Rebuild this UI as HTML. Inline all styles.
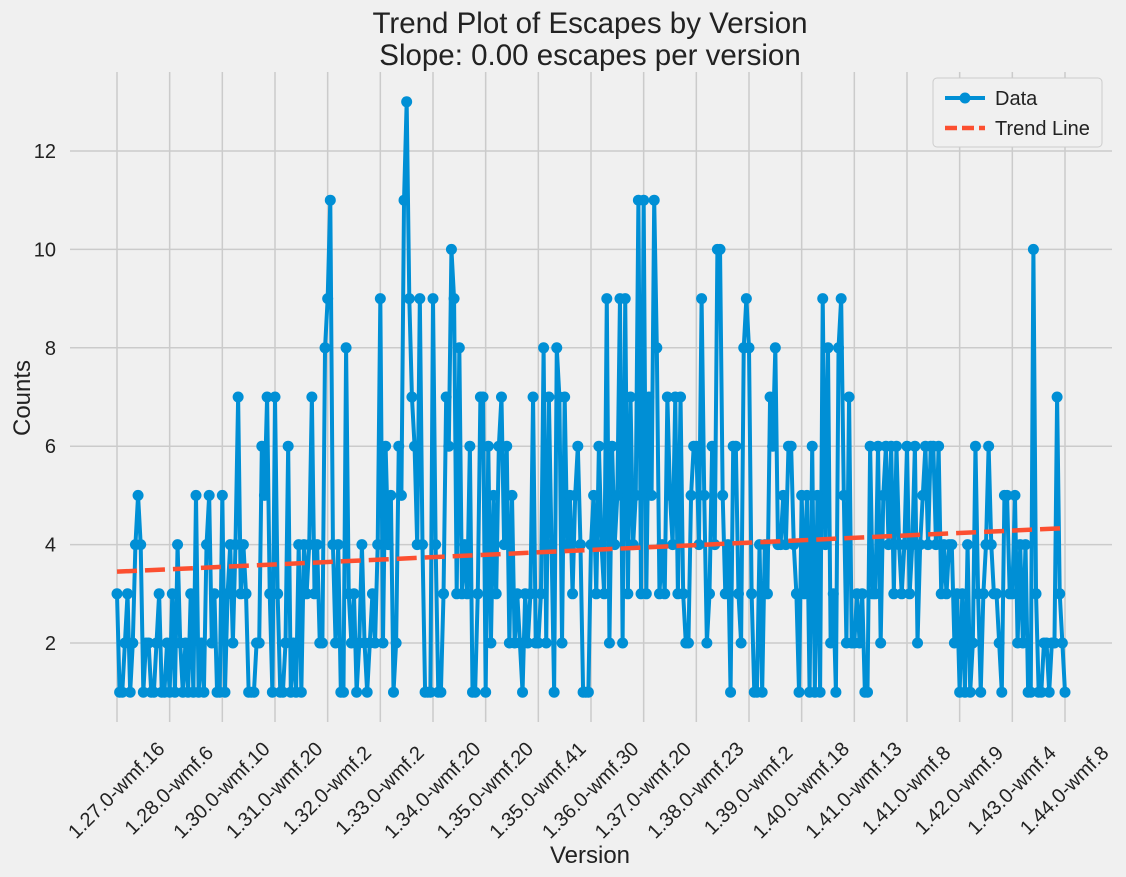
<!DOCTYPE html>
<html><head><meta charset="utf-8"><style>
body{margin:0;background:#f0f0f0;}
svg{display:block;font-family:"Liberation Sans",sans-serif;}
</style></head><body>
<svg id="chart" width="1126" height="877">
<rect width="1126" height="877" fill="#f0f0f0"/>
<g id="grid"></g>
<g id="ticks"></g>
<g id="series"></g>
<text x="590" y="33" text-anchor="middle" font-size="29.5" fill="#222">Trend Plot of Escapes by Version</text>
<text x="590" y="65" text-anchor="middle" font-size="29.5" fill="#222">Slope: 0.00 escapes per version</text>
<text x="590" y="863" text-anchor="middle" font-size="24" fill="#222">Version</text>
<text transform="translate(30,398) rotate(-90)" text-anchor="middle" font-size="24" fill="#222">Counts</text>
<g>
<rect x="933" y="78" width="169" height="69" rx="4" fill="#f0f0f0" stroke="#cccccc"/>
<g>
<line x1="945" y1="98" x2="985" y2="98" stroke="#008fd5" stroke-width="4"/>
<circle cx="965" cy="98" r="5.5" fill="#008fd5"/>
<text x="995" y="105" font-size="20" fill="#222">Data</text>
</g>
<g>
<line x1="945" y1="128" x2="985" y2="128" stroke="#fc4f30" stroke-width="4.5" stroke-dasharray="12,5"/>
<text x="995" y="135" font-size="20" fill="#222">Trend Line</text>
</g>
</g>
</svg>
<script>
const versionLabels=["1.27.0-wmf.16","1.28.0-wmf.6","1.30.0-wmf.10","1.31.0-wmf.20","1.32.0-wmf.2","1.33.0-wmf.2","1.34.0-wmf.20","1.35.0-wmf.20","1.35.0-wmf.41","1.36.0-wmf.30","1.37.0-wmf.20","1.38.0-wmf.23","1.39.0-wmf.2","1.40.0-wmf.18","1.41.0-wmf.13","1.41.0-wmf.8","1.42.0-wmf.9","1.43.0-wmf.4","1.44.0-wmf.8"];
const yTicks=[2,4,6,8,10,12];
const counts=[
3,1,1,2,3,1,2,4,5,4,1,2,2,1,1,2,3,1,1,2,
1,3,1,4,2,1,2,1,3,1,5,1,2,1,4,5,2,3,1,1,
5,1,3,4,2,4,7,3,4,3,1,1,1,2,2,6,5,7,3,1,
7,3,1,1,2,6,1,2,1,4,1,4,3,4,7,3,4,2,2,8,
9,11,4,2,4,1,1,8,3,2,3,1,2,4,2,1,2,3,2,4,
9,2,6,4,5,1,2,6,5,11,13,9,7,6,4,9,4,1,1,1,
9,4,1,1,3,7,6,10,9,3,8,3,4,3,6,1,1,3,7,7,
1,6,2,5,3,6,7,4,6,2,5,2,3,2,1,3,2,3,7,2,
2,3,8,2,7,4,1,8,7,2,7,4,5,3,5,6,4,1,1,1,
4,5,3,6,4,3,9,2,6,4,5,9,2,9,3,7,4,5,11,3,
11,3,7,5,11,8,3,4,3,7,5,4,7,3,7,3,2,2,5,6,
6,4,9,5,2,3,6,4,10,10,5,3,4,1,6,6,3,2,8,9,
8,3,1,1,4,1,4,3,7,6,8,4,4,5,4,6,6,4,3,1,
5,3,5,1,6,1,5,1,9,4,8,2,3,1,8,9,5,2,7,2,
2,3,2,3,1,1,6,3,3,6,2,5,6,4,6,3,6,4,3,4,
6,3,4,6,2,4,5,6,4,6,6,4,6,3,4,3,4,4,2,3,
1,3,1,4,1,2,6,3,1,3,4,6,4,3,3,2,1,5,5,3,
3,5,2,4,2,4,1,1,10,3,1,1,2,2,1,2,2,7,3,2,1];
const tickEvery=20;

const NS="http://www.w3.org/2000/svg";
const n=counts.length;
const X0=117,X1=1065;
function xs(i){return X0+(X1-X0)*i/(n-1);}
function ys(v){return 741.4-49.2*v;}
function mk(tag,attrs,parent){const e=document.createElementNS(NS,tag);for(const k in attrs)e.setAttribute(k,attrs[k]);parent.appendChild(e);return e;}
const grid=document.getElementById('grid'),ticks=document.getElementById('ticks'),series=document.getElementById('series');
yTicks.forEach(v=>{
 const l=mk('line',{x1:70,x2:1112,y1:ys(v),y2:ys(v),stroke:'#cbcbcb','stroke-width':1.5},grid);
 
 
 const t=mk('text',{x:56,y:ys(v)+7,'text-anchor':'end','font-size':20,fill:'#222'},ticks);
 t.textContent=v;
 
 
});
versionLabels.forEach((lab,k)=>{
 const x=xs(k*tickEvery);
 const l=mk('line',{x1:x,x2:x,y1:72,y2:722,stroke:'#cbcbcb','stroke-width':1.5},grid);
 
 
 const t=mk('text',{transform:`translate(${x+4},795) rotate(-45)`,'text-anchor':'middle','font-size':20,fill:'#222'},ticks);
 t.textContent=lab;
 
 
});
let d='';counts.forEach((v,i)=>{d+=(i?'L':'M')+xs(i).toFixed(2)+' '+ys(v).toFixed(2);});
const p=mk('path',{d:d,fill:'none',stroke:'#008fd5','stroke-width':4,'stroke-linejoin':'round'},series);


counts.forEach((v,i)=>{
 const c=mk('circle',{cx:xs(i),cy:ys(v),r:5.5,fill:'#008fd5'},series);
 
 
});
let sx=0,sy=0,sxx=0,sxy=0;counts.forEach((v,i)=>{sx+=i;sy+=v;sxx+=i*i;sxy+=i*v;});
const slope=(n*sxy-sx*sy)/(n*sxx-sx*sx),icpt=(sy-slope*sx)/n;
const tl=mk('line',{x1:xs(0),y1:ys(icpt),x2:xs(n-1),y2:ys(icpt+slope*(n-1)),stroke:'#fc4f30','stroke-width':4.5,'stroke-dasharray':'20,8'},series);


</script>
</body></html>
